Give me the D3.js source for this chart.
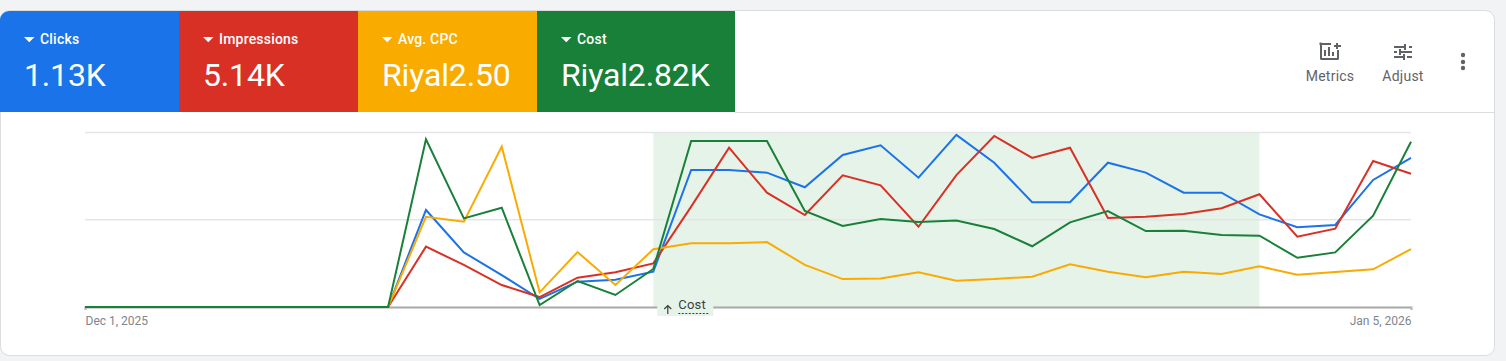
<!DOCTYPE html>
<html><head><meta charset="utf-8">
<script src="https://cdn.jsdelivr.net/npm/d3@7/dist/d3.min.js"></script>
<style>
html,body{margin:0;padding:0;background:#f1f3f4;overflow:hidden}
svg{display:block;font-family:Roboto,sans-serif}
</style></head><body>
<svg id="c" width="1506" height="361"></svg>
<script>
const metricNames = ["Clicks","Impressions","Avg. CPC","Cost"];
const metricTotals = ["1.13K","5.14K","Riyal2.50","Riyal2.82K"];
const metricColors = ["#1a73e8","#d93025","#f9ab00","#188038"];
const tickLabels = ["Dec 1, 2025","Jan 5, 2026"];
const dayCount = 36;
const clicks = [0,0,0,0,0,0,0,0,0,55.6,31.3,18.3,4.6,14.5,15.6,20.2,78.5,78.5,77,68.6,87.1,92.7,74.1,98.6,82.7,60,60,82.7,77,65.5,65.5,53.1,45.7,47,72.8,85.5];
const impressions = [0,0,0,0,0,0,0,0,0,34.6,24.1,12.6,5.7,16.8,19.9,25,57.5,91.3,65.5,52.7,75.5,69.7,46,75.6,98,85.4,91.3,51,51.7,53.3,56.6,64.6,40.3,44.9,83.7,76.4];
const avgCpc = [0,0,0,0,0,0,0,0,0,51.7,48.9,91.9,8.4,31.5,12.6,33.1,36.5,36.5,37.2,24.1,16,16.4,19.9,15.1,16,17.4,24.5,20.2,17,20.2,18.9,23.3,18.5,20.1,21.6,33.2];
const cost = [0,0,0,0,0,0,0,0,0,96.1,50.8,56.9,1.1,14.9,6.9,21.8,95.1,95.1,95.1,55,46.4,50.4,48.7,49.5,44.7,34.8,48.5,55,43.5,43.7,41.3,40.9,28.2,31.3,52.3,94.7];
const seriesList = [clicks,impressions,avgCpc,cost];
const annotationStart = 15, annotationEnd = 31;
const annotationLabel = "Cost";

const svg = d3.select("#c");
// card
svg.append("rect").attr("x",0.5).attr("y",10.5).attr("width",1494).attr("height",345).attr("rx",9)
  .attr("fill","#fff").attr("stroke","#dadce0");
// tabs
const tabEdges = [0,179,358,537,735];
const tabs = svg.selectAll("g.tab").data(metricNames).join("g").attr("class","tab")
  .attr("transform",(d,i)=>`translate(${tabEdges[i]},11)`);
tabs.append("path").attr("d",(d,i)=>{
  const w = tabEdges[i+1]-tabEdges[i];
  return i===0 ? `M0,101V9A9,9 0 0 1 9,0H${w}V101Z` : `M0,0H${w}V101H0Z`;
}).attr("fill",(d,i)=>metricColors[i]);
tabs.append("path").attr("d","M24,26h10.5l-5.25,5.2z").attr("fill","#fff");
tabs.append("text").attr("x",40).attr("y",33).attr("font-size",14).attr("font-weight",500).attr("letter-spacing",0.2).attr("fill","#fff").text(d=>d);
tabs.append("text").attr("x",24).attr("y",75).attr("font-size",32).attr("letter-spacing",-0.15).attr("fill","#fff").text((d,i)=>metricTotals[i]);
svg.append("line").attr("x1",735).attr("x2",1494).attr("y1",112.5).attr("y2",112.5).attr("stroke","#dadce0");

// right tools
const ink = "#5f6368";
const ic = svg.append("g").attr("fill","none").attr("stroke",ink);
ic.append("path").attr("stroke-width",2).attr("d","M1331,44H1322a1.5,1.5 0 0 1-1.5-1.5V45M1321,43V58.5a.5,.5 0 0 0 .5,.5H1337.5a.5,.5 0 0 0 .5-.5V50");
ic.append("path").attr("stroke-width",2).attr("d","M1325,56V50M1329,56V47M1333,56V52M1337,43V49M1334,46H1341");
ic.append("path").attr("stroke-width",2).attr("d","M1394,47H1405M1409,47H1412M1405,44V50M1394,52H1397M1401,52H1412M1400,49V55M1394,57H1403M1407,57H1412M1404,54V60");
svg.selectAll("circle.dot").data([55,62,68]).join("circle").attr("class","dot").attr("cx",1463).attr("cy",d=>d).attr("r",2.2).attr("fill",ink);
svg.append("text").attr("x",1330).attr("y",81).attr("text-anchor","middle").attr("font-size",14).attr("fill",ink).attr("letter-spacing",0.25).text("Metrics");
svg.append("text").attr("x",1403).attr("y",81).attr("text-anchor","middle").attr("font-size",14).attr("fill",ink).attr("letter-spacing",0.25).text("Adjust");

// scales
const x = d3.scaleLinear().domain([0,dayCount-1]).range([85,1411]);
const y = d3.scaleLinear().domain([0,100]).range([307,132.5]);

// highlight band
const bandFill = "#e6f3e9";
svg.append("rect").attr("x",x(annotationStart)).attr("width",x(annotationEnd)-x(annotationStart))
  .attr("y",y(100)).attr("height",y(0)-y(100)).attr("fill",bandFill);

// gridlines
svg.append("g").selectAll("line").data([50,100]).join("line")
  .attr("x1",x(0)).attr("x2",x(dayCount-1)).attr("y1",d=>y(d)).attr("y2",d=>y(d))
  .attr("stroke","#e3e5e8").attr("stroke-width",1.4);

// x axis
const axis = d3.axisBottom(x).tickValues([0,dayCount-1]).tickSize(3).tickFormat((d,i)=>tickLabels[i]);
const ax = svg.append("g").attr("transform",`translate(0,${y(0)})`).call(axis);
ax.select(".domain").attr("stroke","#a8a8a8").attr("stroke-width",2);
ax.selectAll(".tick line").attr("stroke","#bdbdbd");
ax.selectAll(".tick text").attr("font-family","Roboto").attr("font-size",12).attr("fill","#80868b")
  .attr("y",9.5).attr("text-anchor",(d,i)=>i?"end":"start");

// lines
const line = d3.line().x((d,i)=>x(i)).y(d=>y(d));
svg.append("g").selectAll("path").data(seriesList).join("path")
  .attr("d",line).attr("fill","none").attr("stroke-linejoin","miter")
  .attr("stroke",(d,i)=>metricColors[i]).attr("stroke-width",2);

// annotation
const an = svg.append("g").attr("transform",`translate(${x(annotationStart)},0)`);
an.append("rect").attr("x",4).attr("y",297).attr("width",56).attr("height",19).attr("fill",bandFill);
an.append("path").attr("d","M14.5,314V305.5M11,309l3.5,-3.5 3.5,3.5").attr("fill","none").attr("stroke","#3c4043").attr("stroke-width",1.2);
an.append("text").attr("x",25).attr("y",309).attr("font-size",13).attr("fill","#3c4043").attr("letter-spacing",0.2).text(annotationLabel);
an.append("line").attr("x1",25).attr("x2",55).attr("y1",313.5).attr("y2",313.5).attr("stroke","#3c4043").attr("stroke-dasharray","2 1.5");
</script>
</body></html>
